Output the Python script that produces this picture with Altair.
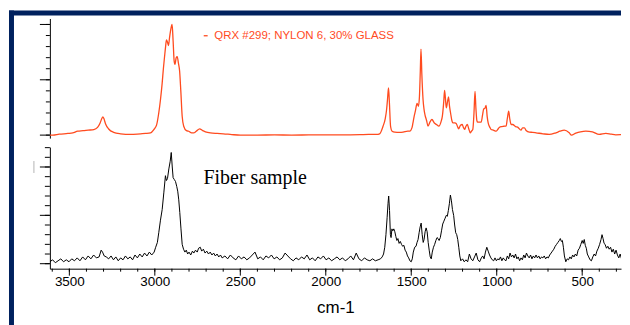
import altair as alt
import pandas as pd

ORANGE = "#ff4b1f"
NAVY = "#00215e"

# Reference spectrum: QRX #299; NYLON 6, 30% GLASS  (wavenumber cm-1, relative intensity)
ref_high = [
    (3614, 0.0), (3596, 0.0), (3560, 0.008), (3509, 0.015), (3480, 0.02), (3451, 0.036),
    (3420, 0.04), (3390, 0.045), (3357, 0.05), (3335, 0.07), (3320, 0.11), (3310, 0.15),
    (3304, 0.165), (3298, 0.15), (3288, 0.1), (3270, 0.055), (3241, 0.025), (3200, 0.012),
    (3142, 0.006), (3083, 0.012), (3054, 0.015), (3025, 0.02), (3006, 0.05), (2990, 0.09),
    (2977, 0.2), (2967, 0.32), (2957, 0.47), (2950, 0.6), (2943, 0.71), (2937, 0.8),
    (2932, 0.86), (2926, 0.84), (2920, 0.81), (2914, 0.88), (2906, 0.96), (2899, 1.0),
    (2893, 0.85), (2887, 0.67), (2882, 0.64), (2875, 0.7), (2869, 0.71), (2862, 0.65),
    (2855, 0.58), (2848, 0.4), (2840, 0.17), (2831, 0.08), (2815, 0.04), (2802, 0.035),
    (2785, 0.02), (2773, 0.02), (2758, 0.035), (2738, 0.057), (2720, 0.04), (2704, 0.03),
    (2675, 0.02), (2636, 0.015), (2599, 0.012), (2550, 0.005), (2500, 0.0), (2400, 0.0),
    (2300, 0.002), (2200, 0.0), (2100, 0.002), (2000, 0.003), (1900, 0.002), (1800, 0.004),
    (1750, 0.006), (1703, 0.006),
]
ref_fingerprint = [
    (1685, 0.012), (1665, 0.08), (1652, 0.15), (1645, 0.22), (1639, 0.32), (1633, 0.426),
    (1628, 0.3), (1621, 0.08), (1612, 0.035), (1596, 0.027), (1570, 0.025), (1548, 0.027),
    (1520, 0.036), (1509, 0.036), (1495, 0.07), (1490, 0.11), (1483, 0.17), (1476, 0.216),
    (1466, 0.286), (1458, 0.261), (1452, 0.35), (1447, 0.58), (1443, 0.777), (1438, 0.55),
    (1431, 0.322), (1425, 0.23), (1420, 0.186), (1410, 0.13), (1402, 0.081), (1390, 0.12),
    (1379, 0.141), (1365, 0.11), (1353, 0.096), (1338, 0.081), (1326, 0.12), (1318, 0.171),
    (1310, 0.3), (1305, 0.405), (1300, 0.33), (1295, 0.246), (1288, 0.3), (1282, 0.345),
    (1276, 0.26), (1270, 0.2), (1262, 0.13), (1256, 0.111), (1245, 0.11), (1237, 0.105),
    (1230, 0.08), (1223, 0.057), (1212, 0.09), (1202, 0.096), (1195, 0.07), (1188, 0.051),
    (1180, 0.08), (1172, 0.096), (1164, 0.06), (1155, 0.021), (1148, 0.035), (1140, 0.051),
    (1133, 0.2), (1127, 0.396), (1122, 0.25), (1116, 0.13), (1111, 0.117), (1100, 0.117),
    (1091, 0.117), (1083, 0.18), (1076, 0.237), (1070, 0.24), (1062, 0.268), (1056, 0.17),
    (1050, 0.111), (1040, 0.07), (1033, 0.051), (1020, 0.045), (1003, 0.036), (990, 0.06),
    (980, 0.075), (960, 0.08), (945, 0.081), (938, 0.15), (930, 0.216), (924, 0.15),
    (916, 0.096), (907, 0.096), (887, 0.075), (878, 0.072), (858, 0.045), (849, 0.066),
    (838, 0.066), (828, 0.042), (809, 0.027), (790, 0.025), (770, 0.021), (730, 0.012),
    (693, 0.006), (654, 0.021), (630, 0.035), (605, 0.045), (576, 0.021), (563, 0.0),
    (537, 0.018), (510, 0.03), (479, 0.036), (440, 0.03), (401, 0.006), (362, 0.015),
    (330, 0.008), (304, 0.003), (260, 0.005), (226, 0.006),
]

# Fiber sample spectrum (wavenumber cm-1, relative intensity)
sample_high = [
    (3614, 0.02), (3598, 0.04), (3582, 0.01), (3566, 0.03), (3550, 0.05), (3534, 0.02),
    (3518, 0.04), (3502, 0.02), (3486, 0.05), (3470, 0.03), (3454, 0.06), (3438, 0.03),
    (3422, 0.07), (3406, 0.04), (3390, 0.08), (3374, 0.05), (3358, 0.09), (3342, 0.06),
    (3326, 0.07), (3314, 0.14), (3306, 0.12), (3296, 0.08), (3284, 0.07), (3270, 0.05),
    (3256, 0.08), (3242, 0.04), (3228, 0.07), (3214, 0.03), (3200, 0.06), (3186, 0.04),
    (3172, 0.08), (3158, 0.05), (3144, 0.07), (3130, 0.04), (3116, 0.09), (3102, 0.06),
    (3088, 0.1), (3074, 0.07), (3060, 0.11), (3046, 0.08), (3032, 0.12), (3018, 0.09),
    (3004, 0.12),
]
sample_ch = [
    (2995, 0.17), (2985, 0.22), (2977, 0.32), (2967, 0.45), (2957, 0.56), (2947, 0.74),
    (2938, 0.91), (2932, 0.86), (2926, 0.88), (2918, 0.98), (2910, 1.06), (2904, 1.15),
    (2898, 1.0), (2893, 0.89), (2886, 0.87), (2879, 0.85), (2872, 0.8), (2866, 0.75),
    (2860, 0.66), (2854, 0.53), (2847, 0.36), (2840, 0.2), (2832, 0.15), (2824, 0.12),
    (2816, 0.14), (2808, 0.1), (2800, 0.12), (2790, 0.09), (2780, 0.13), (2772, 0.11),
    (2762, 0.14), (2752, 0.12), (2744, 0.16), (2734, 0.17), (2726, 0.13), (2716, 0.15),
    (2706, 0.11), (2696, 0.13), (2686, 0.1), (2676, 0.12), (2666, 0.09), (2656, 0.11),
    (2646, 0.08), (2636, 0.1), (2626, 0.07), (2616, 0.09), (2606, 0.06),
]
sample_mid = [
    (2590, 0.08), (2574, 0.05), (2558, 0.09), (2542, 0.06), (2526, 0.04), (2510, 0.08),
    (2494, 0.05), (2478, 0.07), (2462, 0.04), (2446, 0.06), (2430, 0.09), (2414, 0.12),
    (2398, 0.05), (2382, 0.07), (2366, 0.04), (2350, 0.08), (2334, 0.06), (2318, 0.09),
    (2302, 0.05), (2286, 0.07), (2270, 0.04), (2254, 0.06), (2238, 0.11), (2222, 0.08),
    (2206, 0.05), (2190, 0.03), (2174, 0.06), (2158, 0.04), (2142, 0.07), (2126, 0.05),
    (2110, 0.09), (2094, 0.04), (2078, 0.06), (2062, 0.03), (2046, 0.07), (2030, 0.05),
    (2014, 0.08), (1998, 0.04), (1982, 0.06), (1966, 0.03), (1950, 0.05), (1934, 0.07),
    (1918, 0.04), (1902, 0.06), (1886, 0.03), (1870, 0.05), (1854, 0.08), (1838, 0.04),
    (1822, 0.11), (1806, 0.05), (1790, 0.03), (1774, 0.06), (1758, 0.04), (1742, 0.03),
    (1726, 0.05), (1710, 0.03), (1694, 0.04),
]
sample_fp = [
    (1680, 0.05), (1670, 0.07), (1662, 0.1), (1655, 0.17), (1648, 0.3), (1641, 0.48),
    (1636, 0.62), (1632, 0.7), (1627, 0.55), (1622, 0.3), (1618, 0.27), (1613, 0.36),
    (1608, 0.34), (1602, 0.36), (1596, 0.33), (1590, 0.28), (1584, 0.24), (1578, 0.26),
    (1571, 0.21), (1564, 0.23), (1557, 0.2), (1550, 0.18), (1543, 0.19), (1536, 0.14),
    (1529, 0.12), (1522, 0.08), (1515, 0.06), (1508, 0.03), (1500, 0.02), (1494, 0.05),
    (1488, 0.12), (1480, 0.17), (1472, 0.18), (1466, 0.22), (1460, 0.25), (1454, 0.32),
    (1448, 0.38), (1442, 0.42), (1436, 0.3), (1430, 0.22), (1425, 0.25), (1419, 0.33),
    (1413, 0.37), (1407, 0.33), (1401, 0.22), (1395, 0.14), (1389, 0.07), (1383, 0.05),
    (1377, 0.12), (1370, 0.17), (1363, 0.2), (1356, 0.24), (1349, 0.27), (1343, 0.26),
    (1337, 0.24), (1330, 0.27), (1323, 0.34), (1316, 0.41), (1309, 0.44), (1302, 0.47),
    (1295, 0.5), (1289, 0.49), (1283, 0.55), (1277, 0.62), (1271, 0.71), (1265, 0.65),
    (1259, 0.56), (1252, 0.5), (1246, 0.4), (1240, 0.32), (1234, 0.3), (1228, 0.25),
    (1222, 0.17), (1216, 0.08), (1210, 0.03),
]
sample_low = [
    (1200, 0.05), (1190, 0.02), (1180, 0.04), (1170, 0.02), (1160, 0.1), (1150, 0.05),
    (1140, 0.03), (1130, 0.07), (1120, 0.11), (1110, 0.04), (1100, 0.02), (1090, 0.06),
    (1082, 0.08), (1074, 0.05), (1066, 0.12), (1058, 0.17), (1050, 0.13), (1042, 0.09),
    (1034, 0.06), (1026, 0.04), (1018, 0.03), (1010, 0.06), (1002, 0.03), (994, 0.05),
    (986, 0.04), (978, 0.07), (970, 0.03), (962, 0.06), (954, 0.04), (946, 0.03),
    (938, 0.08), (930, 0.05), (922, 0.11), (914, 0.07), (906, 0.09), (898, 0.06),
    (890, 0.1), (882, 0.05), (874, 0.07), (866, 0.03), (858, 0.06), (850, 0.04),
    (842, 0.09), (834, 0.06), (826, 0.11), (818, 0.08), (810, 0.06), (802, 0.09),
    (794, 0.05), (786, 0.08), (778, 0.06), (770, 0.09), (762, 0.06), (754, 0.08),
    (746, 0.05), (738, 0.07), (730, 0.06), (722, 0.08), (714, 0.05), (706, 0.07),
    (698, 0.06), (690, 0.09), (682, 0.11), (674, 0.13), (666, 0.15), (658, 0.18),
    (650, 0.2), (642, 0.22), (634, 0.24), (628, 0.26), (622, 0.23), (616, 0.24),
    (610, 0.17), (604, 0.08), (596, 0.02), (588, 0.05), (580, 0.04), (572, 0.07),
    (564, 0.05), (556, 0.09), (548, 0.07), (540, 0.1), (532, 0.08), (524, 0.14),
    (516, 0.16), (508, 0.2), (500, 0.24), (494, 0.21), (488, 0.25), (482, 0.19),
    (476, 0.16), (470, 0.1), (462, 0.07), (454, 0.04), (446, 0.03), (438, 0.07),
    (430, 0.1), (422, 0.08), (414, 0.13), (406, 0.16), (398, 0.2), (390, 0.25),
    (384, 0.3), (378, 0.26), (372, 0.21), (366, 0.2), (358, 0.16), (350, 0.18),
    (342, 0.15), (334, 0.17), (326, 0.12), (318, 0.15), (310, 0.1), (302, 0.14),
    (294, 0.09), (286, 0.06), (278, 0.1), (270, 0.05), (262, 0.09), (254, 0.06),
    (246, 0.08), (238, 0.05), (230, 0.07), (222, 0.06),
]

x_minor_ticks = [3600, 3500, 3400, 3300, 3200, 3100, 3000, 2900, 2800, 2700, 2600, 2500,
                 2400, 2300, 2200, 2100, 2000, 1900, 1800, 1700, 1600, 1500, 1400, 1300,
                 1200, 1100, 1000, 900, 800, 700, 600, 500, 400, 300]
x_major_ticks = [3500, 3000, 2500, 2000, 1500, 1000, 500]
top_y_minor = [0, 0.1, 0.2, 0.3, 0.4, 0.5, 0.6, 0.7, 0.8, 0.9, 1.0]
top_y_major = [0, 0.5, 1.0]
bottom_y_minor = [0, 0.1, 0.2, 0.3, 0.4, 0.5, 0.6, 0.7, 0.8, 0.9, 1.0, 1.1, 1.2]
bottom_y_major = [0, 0.5, 1.0]

legend_label = "QRX #299; NYLON 6, 30% GLASS"
sample_label = "Fiber sample"
x_title = "cm-1"

ref = pd.DataFrame(ref_high + ref_fingerprint, columns=["wn", "i"])
sample = pd.DataFrame(sample_high + sample_ch + sample_mid + sample_fp + sample_low,
                      columns=["wn", "i"])
one = pd.DataFrame({"k": [0]})
legend_df = pd.DataFrame({"x1": [2714], "x2": [2691], "xt": [2652], "y": [0.898],
                          "t": [legend_label]})
fiber_df = pd.DataFrame({"x": [2716], "y": [0.82], "t": [sample_label]})

W = 573
H_TOP = 120
H_BOT = 122

x_scale = alt.Scale(domain=[273, 3614], reverse=True, nice=False, zero=False)
y_top_scale = alt.Scale(domain=[-0.027, 1.054], nice=False, zero=False)
y_bot_scale = alt.Scale(domain=[-0.0515, 1.206], nice=False, zero=False)

plain_y_axis = alt.Axis(ticks=False, labels=False, title=None, grid=False,
                        domainColor="black", domainWidth=1)


def y_ticks(vals, scale, length):
    return alt.Chart(pd.DataFrame({"v": vals})).mark_rule(color="black", strokeWidth=1).encode(
        y=alt.Y("v:Q", scale=scale), x=alt.value(-length), x2=alt.value(0))


def x_ticks(vals, length):
    return alt.Chart(pd.DataFrame({"v": vals})).mark_rule(color="black", strokeWidth=1).encode(
        x=alt.X("v:Q", scale=x_scale), y=alt.value(H_BOT), y2=alt.value(H_BOT + length))


# decorative dark frame (top-left corner of the slide)
frame_left = alt.Chart(one).mark_rect(color=NAVY).encode(
    x=alt.value(-41), x2=alt.value(-36), y=alt.value(-8), y2=alt.value(310))
frame_top = alt.Chart(one).mark_rect(color=NAVY).encode(
    x=alt.value(-41), x2=alt.value(W), y=alt.value(-8), y2=alt.value(-3))

ref_line = alt.Chart(ref).mark_line(color=ORANGE, strokeWidth=1.3, interpolate="monotone",
                                    clip=True).encode(
    x=alt.X("wn:Q", scale=x_scale, axis=None),
    y=alt.Y("i:Q", scale=y_top_scale, axis=plain_y_axis),
)
legend_rule = alt.Chart(legend_df).mark_rule(color=ORANGE, strokeWidth=1.3).encode(
    x=alt.X("x1:Q", scale=x_scale), x2="x2:Q", y=alt.Y("y:Q", scale=y_top_scale))
legend_text = alt.Chart(legend_df).mark_text(
    align="left", baseline="middle", font="Liberation Sans", fontSize=11.5, color=ORANGE
).encode(x=alt.X("xt:Q", scale=x_scale), y=alt.Y("y:Q", scale=y_top_scale), text="t:N")

top = alt.layer(
    frame_left, frame_top, ref_line,
    y_ticks(top_y_minor, y_top_scale, 4), y_ticks(top_y_major, y_top_scale, 10),
    legend_rule, legend_text,
).properties(width=W, height=H_TOP)

sample_line = alt.Chart(sample).mark_line(color="black", strokeWidth=1, clip=True).encode(
    x=alt.X("wn:Q", scale=x_scale, axis=alt.Axis(
        values=x_major_ticks, format="d", ticks=False,
        title=x_title, grid=False, domainColor="black",
        labelColor="black", titleColor="black", labelFont="Liberation Sans",
        titleFont="Liberation Sans", labelFontSize=13.5, titleFontSize=17,
        titleFontWeight="normal", labelPadding=6, titlePadding=11,
        labelOverlap=False, labelFlush=False)),
    y=alt.Y("i:Q", scale=y_bot_scale, axis=plain_y_axis),
)
fiber_text = alt.Chart(fiber_df).mark_text(
    align="left", baseline="alphabetic", font="Liberation Serif", fontSize=20, color="black"
).encode(x=alt.X("x:Q", scale=x_scale), y=alt.Y("y:Q", scale=y_bot_scale), text="t:N")
gray_mark = alt.Chart(one).mark_rule(color="#b4b4b4", strokeWidth=1).encode(
    x=alt.value(-16), y=alt.value(14), y2=alt.value(26))

bottom = alt.layer(
    sample_line, fiber_text, gray_mark,
    y_ticks(bottom_y_minor, y_bot_scale, 5), y_ticks(bottom_y_major, y_bot_scale, 10),
    x_ticks(x_minor_ticks, 3), x_ticks(x_major_ticks, 7),
).properties(width=W, height=H_BOT)

chart = alt.vconcat(top, bottom, spacing=9, bounds="flush").properties(
    padding={"left": 0, "top": 1, "right": 0, "bottom": 0}, background="white"
).configure_view(stroke="transparent")

chart.save("out.html", embed_options={"renderer": "svg", "actions": False})
